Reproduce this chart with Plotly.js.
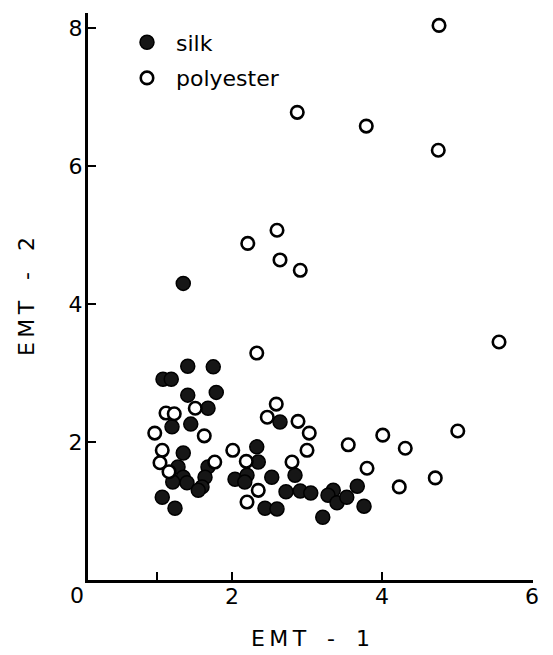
<!DOCTYPE html>
<html><head><meta charset="utf-8">
<script src="https://cdn.plot.ly/plotly-3.0.1.min.js"></script>
<style>html,body{margin:0;padding:0;background:#fff;} #chart{width:553px;height:655px;}</style>
</head><body><div id="chart"></div>
<script>
const silkX = [1.35,1.41,1.75,1.08,1.19,1.41,1.79,1.68,1.20,1.45,1.35,1.28,1.35,1.21,1.40,1.68,1.64,1.60,1.55,1.07,1.24,2.64,2.33,2.35,2.04,2.20,2.17,2.53,2.44,2.60,2.84,2.72,2.91,3.05,3.35,3.28,3.40,3.53,3.67,3.76,3.21];
const silkY = [4.30,3.10,3.09,2.91,2.91,2.68,2.72,2.49,2.22,2.26,1.84,1.64,1.49,1.42,1.41,1.64,1.49,1.35,1.30,1.20,1.04,2.29,1.93,1.71,1.46,1.52,1.42,1.49,1.04,1.03,1.52,1.28,1.29,1.26,1.30,1.23,1.12,1.20,1.36,1.07,0.91];
const polyX = [4.76,3.79,4.75,2.87,2.21,2.60,2.64,2.91,5.56,2.33,1.51,1.12,1.23,0.97,1.63,1.07,1.04,1.16,1.77,2.59,2.47,2.88,3.03,2.01,2.19,2.35,2.20,2.80,3.00,3.55,4.01,4.31,5.01,3.80,4.23,4.71];
const polyY = [8.04,6.58,6.23,6.78,4.88,5.07,4.64,4.49,3.45,3.29,2.49,2.42,2.41,2.13,2.09,1.88,1.70,1.57,1.71,2.55,2.36,2.30,2.13,1.88,1.72,1.30,1.13,1.71,1.88,1.96,2.10,1.91,2.16,1.62,1.35,1.48];
const seriesNames = ['silk', 'polyester'];
const xTickVals = [1, 2, 4, 6];
const xTickText = ['', '2', '4', '6'];
const xZeroLabel = '0';
const yTickVals = [2, 4, 6, 8];
const yTickText = ['2', '4', '6', '8'];
const xTitle = 'E\u2009M\u2009T\u00a0\u00a0\u00a0-\u00a0\u00a0\u00a01';
const yTitle = 'E\u2009M\u2009T\u00a0\u00a0\u00a0-\u00a0\u00a0\u00a02';

const FONT = 'DejaVu Sans, sans-serif';

const traces = [
  {
    type: 'scatter', mode: 'markers', name: seriesNames[0], legendgroup: 'a',
    x: silkX, y: silkY,
    marker: {symbol: 'circle', size: 14, color: '#161616', line: {color: '#000', width: 1.5}},
    cliponaxis: false
  },
  {
    type: 'scatter', mode: 'markers', name: seriesNames[1], legendgroup: 'b',
    x: polyX, y: polyY,
    marker: {symbol: 'circle', size: 12.5, color: '#fff', line: {color: '#000', width: 2.6}},
    cliponaxis: false
  }
];

const layout = {
  width: 553, height: 655,
  margin: {l: 88, r: 20, t: 13, b: 75, pad: 0},
  paper_bgcolor: '#fff', plot_bgcolor: '#fff',
  font: {family: FONT, color: '#000'},
  showlegend: true,
  legend: {
    x: 0.0674, y: 0.985, xanchor: 'left', yanchor: 'top',
    bgcolor: 'rgba(0,0,0,0)', borderwidth: 0,
    font: {family: FONT, size: 22, color: '#000'},
    traceorder: 'grouped', tracegroupgap: 4, itemsizing: 'trace', itemwidth: 48
  },
  xaxis: {
    range: [0.08, 6.013],
    tickmode: 'array', tickvals: xTickVals, ticktext: xTickText,
    ticks: 'inside', ticklen: 8, tickwidth: 2, tickcolor: '#000',
    showline: true, linewidth: 3, linecolor: '#000',
    showgrid: false, zeroline: false,
    tickfont: {family: FONT, size: 22, color: '#000'},
    ticklabelstandoff: -5,
    title: {text: xTitle, font: {family: FONT, size: 22, color: '#000'}, standoff: 23}
  },
  yaxis: {
    range: [0, 8.22],
    tickmode: 'array', tickvals: yTickVals, ticktext: yTickText,
    ticks: 'inside', ticklen: 8, tickwidth: 2, tickcolor: '#000',
    showline: true, linewidth: 3, linecolor: '#000',
    showgrid: false, zeroline: false,
    tickfont: {family: FONT, size: 22, color: '#000'},
    ticklabelstandoff: -2,
    title: {text: yTitle, font: {family: FONT, size: 22, color: '#000'}, standoff: 28}
  },
  annotations: [{
    text: xZeroLabel, xref: 'paper', yref: 'paper',
    x: (0 - 0.08) / (6.013 - 0.08), y: 0,
    xanchor: 'center', yanchor: 'top', yshift: -1, xshift: -5,
    showarrow: false, font: {family: FONT, size: 22, color: '#000'}
  }]
};

Plotly.newPlot('chart', traces, layout, {displayModeBar: false, staticPlot: true});
</script>
</body></html>
